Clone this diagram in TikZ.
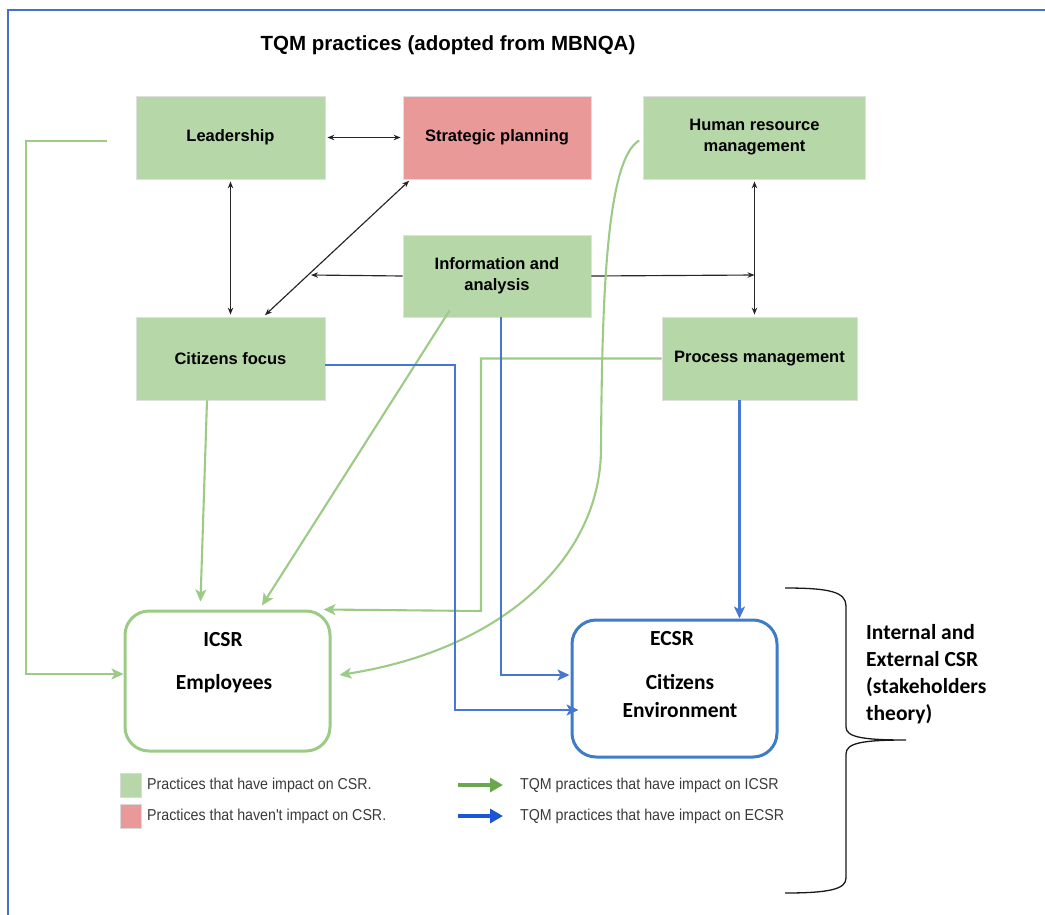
\documentclass[tikz,border=0pt]{standalone}
\usepackage{fontspec}
\setmainfont{Liberation Sans}
\newfontfamily\calfont{Carlito}
\newfontfamily\legfont[FakeStretch=0.9]{Liberation Sans}
\usetikzlibrary{arrows.meta}

\definecolor{pgreen}{HTML}{B6D7A8}
\definecolor{pred}{HTML}{EA9999}
\definecolor{gline}{HTML}{9CCB86}
\definecolor{bline}{HTML}{4677D2}
\definecolor{frameblue}{HTML}{4472C4}
\definecolor{icsrgreen}{HTML}{9CCB86}
\definecolor{ecsrblue}{HTML}{3D7CC6}
\definecolor{leggreen}{HTML}{6AA84F}
\definecolor{legblue}{HTML}{1C55D6}
\definecolor{legtext}{HTML}{3A3A3A}

\tikzset{
  practice/.style={rectangle, draw=black!12, line width=0.8pt, fill=pgreen,
    minimum width=189pt, minimum height=83pt, inner sep=2pt, align=center,
    font=\fontsize{16.5}{21}\selectfont\bfseries},
  outcome/.style={rectangle, rounded corners=24pt, line width=3pt, fill=white,
    minimum width=205pt, minimum height=138pt, align=center},
  calbold/.style={font=\calfont\fontsize{21.5}{27}\selectfont\bfseries},
  link/.style={draw=black!85, line width=1.15pt,
    {Stealth[length=7pt,width=5.5pt]}-{Stealth[length=7pt,width=5.5pt]},
    shorten <=2pt, shorten >=2pt},
  onelink/.style={draw=black!85, line width=1.15pt, -{Stealth[length=7pt,width=5.5pt]}},
  gconn/.style={draw=gline, line width=2.1pt, -{Stealth[length=12pt,width=11pt,inset=3pt]}},
  bconn/.style={draw=bline, line width=2.1pt, -{Stealth[length=12pt,width=11pt,inset=3pt]}},
  legsq/.style={rectangle, draw=black!15, line width=0.8pt, minimum width=21pt, minimum height=24pt, inner sep=0pt},
  legtxt/.style={anchor=west, inner sep=0pt, text=legtext, font=\legfont\fontsize{15.8}{18}\selectfont},
  legarrow/.style={line width=3.5pt, -{Triangle[length=13pt,width=14pt]}}
}

\begin{document}
\begin{tikzpicture}[x=1pt,y=-1pt]
\useasboundingbox (0,0) rectangle (1045,914);

% outer frame
\draw[frameblue, line width=1.8pt] (8,920) -- (8,10) -- (1050,10);

% title
\node[font=\fontsize{20.5}{24}\selectfont\bfseries] (title) at (448,45) {TQM practices (adopted from MBNQA)};

% TQM practice boxes
\node[practice] (lead) at (230.5,137.5) {Leadership};
\node[practice, fill=pred, minimum width=188pt] (strat) at (497,137.5) {Strategic planning};
\node[practice, minimum width=222pt] (hrm) at (754.5,137.5) {Human resource\\management};
\node[practice, minimum width=188pt, minimum height=82pt] (info) at (497,276) {Information and\\analysis};
\node[practice] (cit) at (230.5,358.5) {Citizens focus};
\node[practice, minimum width=195pt] (pm) at (759.5,358.5) {Process management};

% CSR outcome boxes
\node[outcome, draw=icsrgreen, minimum height=140pt] (icsr) at (227.5,681) {};
\node[calbold] (icsrt) at (223,640) {ICSR};
\node[calbold] (icsre) at (224,684) {Employees};
\node[outcome, draw=ecsrblue, minimum height=137pt] (ecsr) at (674.5,688.5) {};
\node[calbold] (ecsrt) at (672,639) {ECSR};
\node[calbold] (ecsrc) at (680,682) {Citizens};
\node[calbold] (ecsre) at (680,710) {Environment};

% relations among practices
\draw[link] (lead) -- (strat);
\draw[link] (lead.south) -- (cit.north);
\draw[link] ([xshift=8pt]strat.south west) -- ([xshift=33pt]cit.north);
\draw[link] (hrm.south) -- (hrm.south |- pm.north);
\coordinate (onDiag) at (311,275);
\coordinate (onVert) at (hrm.south |- 0,275);
\draw[onelink] (info.west) -- (onDiag);
\draw[onelink] (info.east) -- (onVert);

% practices with impact on ICSR
\coordinate (leadTail) at (107,141);
\coordinate (leftBend) at (26,141);
\draw[gconn] (leadTail) -- (leftBend) |- ([yshift=7pt]icsr.west);
\draw[gconn] ([xshift=-23.5pt]cit.south) -- ([xshift=-27pt,yshift=8pt]icsr.north);
\draw[gconn] ([xshift=47pt,yshift=7pt]info.south west) -- ([xshift=34.5pt,yshift=4pt]icsr.north);
\coordinate (pmBend) at (481,611);
\draw[gconn] (pm.west) -| (pmBend) -- ([xshift=-8pt]icsr.north east);
\draw[gconn] ([xshift=-4pt,yshift=-3pt]hrm.west) .. controls (606,160) and (602,300) .. (601,450)
  .. controls (600,560) and (500,650) .. ([xshift=8pt,yshift=6pt]icsr.east);

% practices with impact on ECSR
\draw[bconn] ([yshift=-6.5pt]cit.east) -| (455,600) |- ([xshift=8pt,yshift=-21.5pt]ecsr.west);
\draw[bconn] ([xshift=4pt]info.south) |- ([xshift=-1pt,yshift=13.5pt]ecsr.west);
\draw[bconn] ([xshift=-20pt]pm.south) -- ([xshift=-20pt]pm.south |- ecsr.north);

% stakeholders brace
\draw[black!90, line width=1.3pt] (785,588) .. controls (830,588) and (846,592) .. (846,606)
  -- (846,727) .. controls (846,737) and (862,740) .. (906,740)
  (906,740) .. controls (862,740) and (846,743) .. (846,754)
  -- (846,878) .. controls (846,889) and (830,893) .. (785,893);
\node[calbold, anchor=north west, align=left, inner sep=0pt] (theory) at (866,624)
  {Internal and\\External CSR\\(stakeholders\\theory)};

% legend
\node[legsq, fill=pgreen] (sqg) at (130.5,785) {};
\node[legsq, fill=pred] (sqr) at (130.5,816) {};
\node[legtxt] (lg1) at (147,785) {Practices that have impact on CSR.};
\node[legtxt] (lg2) at (147,816) {Practices that haven't impact on CSR.};
\coordinate (ga0) at (458,785); \coordinate (ga1) at (503,785);
\coordinate (ba0) at (458,816); \coordinate (ba1) at (503,816);
\draw[legarrow, leggreen] (ga0) -- (ga1);
\draw[legarrow, legblue] (ba0) -- (ba1);
\node[legtxt] (lg3) at (520,785) {TQM practices that have impact on ICSR};
\node[legtxt] (lg4) at (520,816) {TQM practices that have impact on ECSR};
\end{tikzpicture}
\end{document}
